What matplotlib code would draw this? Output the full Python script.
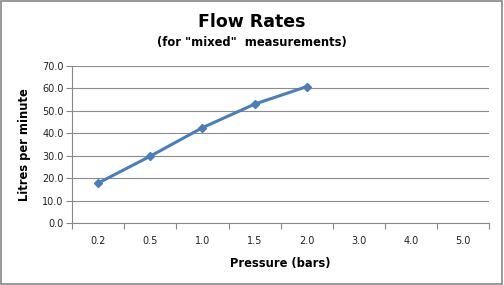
import numpy as np
import matplotlib.pyplot as plt
from matplotlib.patches import Rectangle

# pressure categories (bars) and measured flow (litres per minute)
pressures = ["0.2", "0.5", "1.0", "1.5", "2.0", "3.0", "4.0", "5.0"]
flow = [17.8, 29.8, 42.5, 53.0, 60.8]
y_ticks = [0, 10, 20, 30, 40, 50, 60, 70]

fig = plt.figure(figsize=(5.04, 2.85), dpi=100)
ax = fig.add_axes([0.143, 0.2175, 0.828, 0.551])

x = np.arange(len(flow))
ax.plot(x, flow, color="#4a7ebb", lw=2.2, marker="D", ms=4.5,
        markerfacecolor="#4a7ebb", markeredgecolor="#4a7ebb", zorder=3)

ax.set_xlim(-0.5, len(pressures) - 0.5)
ax.set_ylim(0, 70)
ax.set_yticks(y_ticks)
ax.set_yticklabels([f"{v:.1f}" for v in y_ticks], fontsize=7, color="#222222")
ax.set_xticks(np.arange(len(pressures)))
ax.set_xticklabels(pressures, fontsize=7, color="#222222")
ax.tick_params(axis="x", length=0, pad=9)
ax.tick_params(axis="y", length=4, color="#888888", width=0.8, pad=2)

# category boundary ticks
ax.set_xticks(np.arange(len(pressures) + 1) - 0.5, minor=True)
ax.tick_params(axis="x", which="minor", length=4, color="#888888", width=0.8)

ax.grid(axis="y", color="#8c8c8c", lw=0.8)
ax.set_axisbelow(True)
for s in ["top", "right"]:
    ax.spines[s].set_visible(False)
for s in ["left", "bottom"]:
    ax.spines[s].set_color("#888888")
    ax.spines[s].set_linewidth(0.8)

ax.set_xlabel("Pressure (bars)", fontsize=8.3, fontweight="bold", labelpad=8)
ax.set_ylabel("Litres per minute", fontsize=8.3, fontweight="bold", labelpad=8)

fig.text(0.5, 0.923, "Flow Rates", ha="center", va="center",
         fontsize=12.5, fontweight="bold")
fig.text(0.5, 0.852, '(for "mixed"  measurements)', ha="center", va="center",
         fontsize=8.3, fontweight="bold")

# outer chart border
fig.patches.append(Rectangle((0.002, 0.004), 0.995, 0.992, transform=fig.transFigure,
                             fill=False, edgecolor="#888888", lw=1.2))

fig.savefig("out.png", dpi=100)
